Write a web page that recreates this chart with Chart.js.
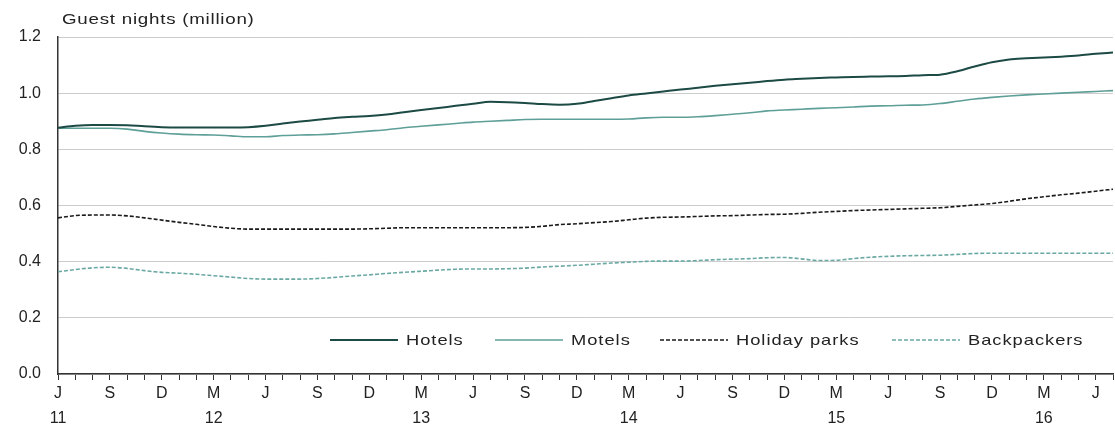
<!DOCTYPE html>
<html>
<head>
<meta charset="utf-8">
<script src="https://cdn.jsdelivr.net/npm/chart.js@4"></script>
<style>
html,body{margin:0;padding:0;background:#fff;}
#wrap{width:1115px;height:434px;position:relative;}
</style>
</head>
<body>
<div id="wrap"><canvas id="c"></canvas></div>
<script>
// Monthly, June 2011 .. July 2016
const startYear = 11;
const yAxisTitle = 'Guest nights (million)';
const seriesNames = ['Hotels','Motels','Holiday parks','Backpackers'];
const monthNames = ['J','F','M','A','M','J','J','A','S','O','N','D'];

const hotels = [0.877,0.884,0.887,0.887,0.886,0.882,0.879,0.878,0.878,0.878,0.878,0.879,
  0.884,0.892,0.899,0.905,0.912,0.916,0.919,0.924,0.932,0.940,0.947,0.955,
  0.962,0.969,0.968,0.965,0.961,0.959,0.962,0.972,0.982,0.992,0.999,1.006,
  1.013,1.019,1.026,1.032,1.037,1.043,1.048,1.051,1.054,1.056,1.058,1.059,
  1.060,1.061,1.064,1.066,1.078,1.095,1.110,1.120,1.124,1.127,1.130,1.134,
  1.140,1.145];
const motels = [0.875,0.875,0.875,0.875,0.872,0.864,0.858,0.854,0.852,0.851,0.848,0.845,
  0.845,0.849,0.851,0.852,0.855,0.860,0.865,0.870,0.877,0.882,0.887,0.892,
  0.897,0.900,0.903,0.906,0.907,0.907,0.907,0.907,0.907,0.908,0.912,0.914,
  0.914,0.916,0.920,0.925,0.930,0.937,0.940,0.943,0.946,0.948,0.951,0.954,
  0.955,0.957,0.958,0.963,0.971,0.979,0.985,0.990,0.994,0.997,1.000,1.003,
  1.006,1.009];
const holidayParks = [0.556,0.564,0.566,0.566,0.563,0.556,0.548,0.540,0.533,0.525,0.519,0.516,
  0.516,0.516,0.516,0.516,0.516,0.516,0.517,0.519,0.521,0.521,0.521,0.521,
  0.521,0.521,0.521,0.522,0.526,0.532,0.535,0.539,0.543,0.549,0.555,0.558,
  0.559,0.561,0.563,0.564,0.566,0.568,0.569,0.572,0.576,0.579,0.582,0.584,
  0.586,0.588,0.590,0.592,0.597,0.602,0.607,0.615,0.624,0.631,0.638,0.644,
  0.651,0.658];
const backpackers = [0.364,0.372,0.378,0.380,0.376,0.368,0.362,0.359,0.355,0.350,0.345,0.340,
  0.338,0.338,0.338,0.340,0.344,0.349,0.353,0.358,0.362,0.366,0.370,0.373,
  0.374,0.374,0.375,0.377,0.381,0.384,0.387,0.391,0.395,0.398,0.401,0.402,
  0.402,0.404,0.407,0.409,0.411,0.414,0.415,0.410,0.404,0.405,0.411,0.416,
  0.419,0.421,0.422,0.423,0.426,0.429,0.430,0.430,0.430,0.430,0.430,0.430,
  0.430,0.430];

// tick labels: month letter every 3rd month, year under first June and each March
const labels = hotels.map((_, i) => {
  const m = (5 + i) % 12;
  const yr = startYear + Math.floor((5 + i) / 12);
  if (i % 3 !== 0) return '';
  const year = (i === 0 || m === 2) ? String(yr) : '';
  return [monthNames[m], year];
});

const FONT = '"Liberation Sans", Arial, sans-serif';

function wideText(ctx, text, x, y, sx) {
  ctx.save();
  ctx.translate(x, y);
  ctx.scale(sx, 1);
  ctx.fillText(text, 0, 0);
  ctx.restore();
}

const overlay = {
  id: 'overlay',
  afterDraw(chart) {
    const ctx = chart.ctx;
    ctx.save();
    ctx.fillStyle = '#222';
    ctx.textBaseline = 'middle';
    ctx.textAlign = 'left';
    ctx.font = '15px ' + FONT;
    ctx.letterSpacing = '0.6px';
    wideText(ctx, yAxisTitle, 62, 20, 1.25);
    // legend inside plot area
    const legendY = chart.chartArea.bottom - 34;
    const xs = [330, 495, 660, 892];
    chart.data.datasets.forEach((ds, i) => {
      const x = xs[i];
      ctx.beginPath();
      ctx.strokeStyle = ds.borderColor;
      ctx.lineWidth = ds.borderWidth;
      ctx.setLineDash(ds.borderDash || []);
      ctx.moveTo(x, legendY);
      ctx.lineTo(x + 68, legendY);
      ctx.stroke();
      ctx.setLineDash([]);
      ctx.fillStyle = '#222';
      ctx.font = '15px ' + FONT;
      ctx.letterSpacing = '0.8px';
      wideText(ctx, ds.label, x + 76, legendY + 1, 1.22);
    });
    ctx.restore();
  }
};

new Chart(document.getElementById('c'), {
  type: 'line',
  data: {
    labels: labels,
    datasets: [
      { label: seriesNames[0], data: hotels, borderColor: '#1c4a45', borderWidth: 2 },
      { label: seriesNames[1], data: motels, borderColor: '#5e9f98', borderWidth: 1.6 },
      { label: seriesNames[2], data: holidayParks, borderColor: '#1a1a1a', borderWidth: 1.6, borderDash: [4, 2] },
      { label: seriesNames[3], data: backpackers, borderColor: '#6aa9a3', borderWidth: 1.6, borderDash: [4, 2] }
    ]
  },
  options: {
    responsive: true,
    maintainAspectRatio: false,
    animation: false,
    layout: { padding: { top: 37, right: 2, left: 0, bottom: 0 } },
    elements: { point: { radius: 0 }, line: { tension: 0.3, cubicInterpolationMode: 'monotone' } },
    plugins: { legend: { display: false }, tooltip: { enabled: false } },
    scales: {
      x: {
        offset: false,
        grid: { drawOnChartArea: false, drawTicks: true, tickLength: 6, color: '#333', lineWidth: 1 },
        border: { color: '#333', width: 1.5 },
        ticks: { autoSkip: false, maxRotation: 0, minRotation: 0, padding: 1, color: '#222',
                 font: { family: FONT, size: 16, lineHeight: 1.55 } },
        afterFit(s) { s.height = 60; }
      },
      y: {
        min: 0, max: 1.2,
        grid: { color: '#cccccc', drawTicks: false, lineWidth: 1 },
        border: { color: '#333', width: 1.5 },
        ticks: { stepSize: 0.2, padding: 17, color: '#222',
                 font: { family: FONT, size: 16 },
                 callback: v => Number(v).toFixed(1) },
        afterFit(s) { s.width = 58; }
      }
    }
  },
  plugins: [overlay]
});
</script>
</body>
</html>
